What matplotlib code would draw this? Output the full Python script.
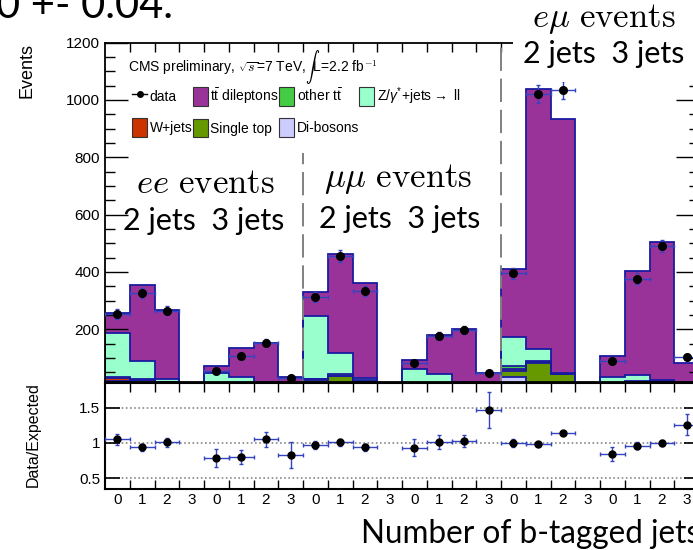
import numpy as np
import matplotlib
matplotlib.use("Agg")
import matplotlib.pyplot as plt
from matplotlib.patches import Rectangle, Patch
from matplotlib.lines import Line2D
from matplotlib.ticker import MultipleLocator

plt.rcParams['font.family'] = ['Liberation Sans', 'DejaVu Sans']
plt.rcParams['mathtext.fontset'] = 'custom'
plt.rcParams['mathtext.rm'] = 'Liberation Sans'
plt.rcParams['mathtext.it'] = 'Liberation Sans:italic'

# ##### Data (24 bins: ee 2j, ee 3j, mumu 2j, mumu 3j, emu 2j, emu 3j; 0-3 b-tags each)
btag_labels = ["0", "1", "2", "3"] * 6

data = [253, 327, 265, np.nan, 55, 106, 153, 29,
        313, 456, 333, np.nan, 83, 176, 197, 48,
        395, 1022, 1035, np.nan, 90, 376, 490, 104]

dibosons = [8, 3, 1, 0, 2, 1, 0, 0,
            10, 4, 1, 0, 2, 1, 0, 0,
            34, 8, 2, 0, 4, 2, 1, 0]
single_top = [10, 19, 12, 0, 2, 5, 4, 1,
              12, 33, 16, 0, 3, 7, 6, 1,
              21, 75, 40, 0, 4, 14, 15, 3]
wjets = [12, 2, 1, 0, 1, 0, 0, 0,
         3, 1, 0, 0, 0, 0, 0, 0,
         5, 2, 0, 0, 1, 0, 0, 0]
other_ttbar = [2, 3, 3, 0, 1, 2, 2, 0,
               2, 4, 4, 0, 1, 2, 2, 0,
               10, 5, 3, 0, 2, 3, 3, 0]
zjets = [156, 63, 8, 0, 40, 26, 5, 3,
         219, 74, 8, 0, 54, 34, 6, 4,
         104, 40, 2, 0, 21, 20, 3, 2]
ttbar_dilep = [67, 264, 242, 0, 26, 101, 142, 30,
               85, 345, 333, 0, 32, 136, 186, 41,
               235, 907, 885, 0, 74, 365, 482, 77]

ratio = [1.05, 0.94, 1.01, np.nan, 0.79, 0.80, 1.05, 0.83,
         0.97, 1.01, 0.94, np.nan, 0.93, 1.02, 1.03, 1.47,
         1.00, 0.99, 1.14, np.nan, 0.85, 0.96, 1.00, 1.26]
ratio_err = [0.08, 0.05, 0.06, np.nan, 0.125, 0.095, 0.10, 0.19,
             0.06, 0.05, 0.05, np.nan, 0.12, 0.10, 0.09, 0.255,
             0.05, 0.03, 0.03, np.nan, 0.10, 0.05, 0.04, 0.15]

components = [("Di-bosons", dibosons, "#ccccff"),
              ("Single top", single_top, "#669900"),
              ("W+jets", wjets, "#cc3300"),
              ("other t$\\bar{\\rm t}$", other_ttbar, "#44cc44"),
              ("Z/$\\gamma^{*}$+jets$\\rightarrow$ ll", zjets, "#99ffcc"),
              ("t$\\bar{\\rm t}$ dileptons", ttbar_dilep, "#993399")]

outline = "#1a1aa0"
errcolor = "#3344c0"

W, H = 693.0, 550.0


def fx(x):
    return x / W


def fy(y):
    return 1 - y / H


fig = plt.figure(figsize=(6.93, 5.5), dpi=100)
ax = fig.add_axes([fx(105), fy(382), 594 / W, (382 - 42.7) / H])
axr = fig.add_axes([fx(105), fy(489.3), 594 / W, (489.3 - 383) / H])

nb = len(data)
edges = np.arange(nb + 1)
centers = np.arange(nb) + 0.5

# ##### Stacked histogram
cum = np.zeros(nb)
for name, vals, col in components:
    vals = np.array(vals, dtype=float)
    ax.stairs(cum + vals, edges, baseline=cum.copy(), fill=True, color=col, lw=0, zorder=1)
    cum = cum + vals
    ax.stairs(cum, edges, baseline=0, fill=False, color=outline, lw=1.3, zorder=1.5)

d = np.array(data, dtype=float)
ax.errorbar(centers, d, yerr=np.sqrt(d), xerr=0.5, fmt='o', color='black', ms=5.5,
            ecolor=errcolor, elinewidth=1, capsize=1.5, zorder=3)

# channel separators
ax.vlines(8, 15.7, 815, colors="#808080", linestyles=(0, (12, 4)), lw=1.4, zorder=2)
ax.vlines(16, 15.7, 1200, colors="#808080", linestyles=(0, (12, 4)), lw=1.4, zorder=2)

ax.set_xlim(0, nb)
ax.set_ylim(15.7, 1200)
ax.set_yticks([200, 400, 600, 800, 1000, 1200])
ax.yaxis.set_minor_locator(MultipleLocator(50))
ax.set_xticks(edges[1:-1])
ax.tick_params(axis='y', which='major', direction='in', length=16.5, width=1, left=True, right=True,
               labelsize=11)
ax.tick_params(axis='y', which='minor', direction='in', length=7, width=1, left=True, right=True)
ax.tick_params(axis='x', which='major', direction='in', length=6.5, width=1, top=True, bottom=False,
               labelbottom=False)
for s in ax.spines.values():
    s.set_linewidth(1.3)

# legend
handles = [Line2D([], [], color='black', marker='o', ms=4, lw=1)]
labels = ["data"]
for i in [5, 3, 4, 2, 1, 0]:
    handles.append(Patch(facecolor=components[i][2], edgecolor='#333333', lw=0.8))
    labels.append(components[i][0])
# reorder for column-major filling: row1 = first four, row2 = last three
order = [0, 4, 1, 5, 2, 6, 3]
ax.legend([handles[i] for i in order], [labels[i] for i in order], ncol=4, frameon=False,
          loc='upper left', bbox_to_anchor=(0.0455, 0.875), borderpad=0, borderaxespad=0,
          fontsize=10, handlelength=1.08, handleheight=1.7, handletextpad=0.2,
          columnspacing=0.0, labelspacing=0.93)
ax.text(23 / 594, 0.927, "CMS preliminary, $\\sqrt{s}$=7 TeV,$\\int$L=2.2 fb$^{-1}$",
        transform=ax.transAxes, fontsize=10, va='center', ha='left', math_fontfamily='cm')

# ##### Ratio panel
axr.errorbar(centers, ratio, yerr=ratio_err, xerr=0.5, fmt='o', color='black', ms=5,
             ecolor=errcolor, elinewidth=1, capsize=1.5, zorder=3)
for yv in [0.5, 1.0, 1.5]:
    axr.axhline(yv, color='#888888', ls=(0, (1, 1.5)), lw=1.2, zorder=1)
axr.set_xlim(0, nb)
axr.set_ylim(0.344, 1.85)
axr.set_yticks([0.5, 1.0, 1.5])
axr.set_yticklabels(["0.5", "1", "1.5"])
axr.set_xticks(edges[1:-1])
axr.set_xticklabels([])
axr.set_xticks(centers, minor=True)
axr.set_xticklabels(btag_labels, minor=True)
axr.tick_params(axis='x', which='major', direction='in', length=6.5, width=1, top=True, bottom=True)
axr.tick_params(axis='x', which='minor', length=0, pad=3, labelsize=11)
axr.tick_params(axis='y', which='major', direction='in', length=10.8, width=1.2, left=True,
                right=True, labelsize=11)
for s in axr.spines.values():
    s.set_linewidth(1.5)

# ##### Labels and annotations
fig.text(fx(27), fy(42.7), "Events", rotation=90, ha='center', va='top', fontsize=13)
fig.text(fx(33), fy(435), "Data/Expected", rotation=90, ha='center', va='center', fontsize=11.5)

gill = ['Lato', 'DejaVu Sans']
fig.text(fx(173), fy(18), "0 +- 0.04.", ha='right', va='baseline', fontsize=30, family=gill)
fig.text(fx(361), fy(543), "Number of b-tagged jets", ha='left', va='baseline', fontsize=22.7,
         family=gill)

fig.text(fx(205), fy(192.7), r"$ee\ \mathrm{events}$", ha='center', va='baseline', fontsize=25,
         math_fontfamily='cm')
fig.text(fx(203.5), fy(230), "2 jets  3 jets", ha='center', va='baseline', fontsize=22, family=gill)
fig.text(fx(398), fy(187.3), r"$\mu\mu\ \mathrm{events}$", ha='center', va='baseline', fontsize=25,
         math_fontfamily='cm')
fig.text(fx(399.5), fy(228), "2 jets  3 jets", ha='center', va='baseline', fontsize=22, family=gill)

fig.patches.append(Rectangle((fx(513), fy(82)), 1 - fx(513), 82 / H, transform=fig.transFigure,
                             facecolor='white', edgecolor='none', zorder=5))
fig.text(fx(603.5), fy(26.7), r"$e\mu\ \mathrm{events}$", ha='center', va='baseline', fontsize=25,
         math_fontfamily='cm', zorder=6)
fig.text(fx(604), fy(63.3), "2 jets  3 jets", ha='center', va='baseline', fontsize=22, family=gill,
         zorder=6)

fig.savefig("out.png", dpi=100)
